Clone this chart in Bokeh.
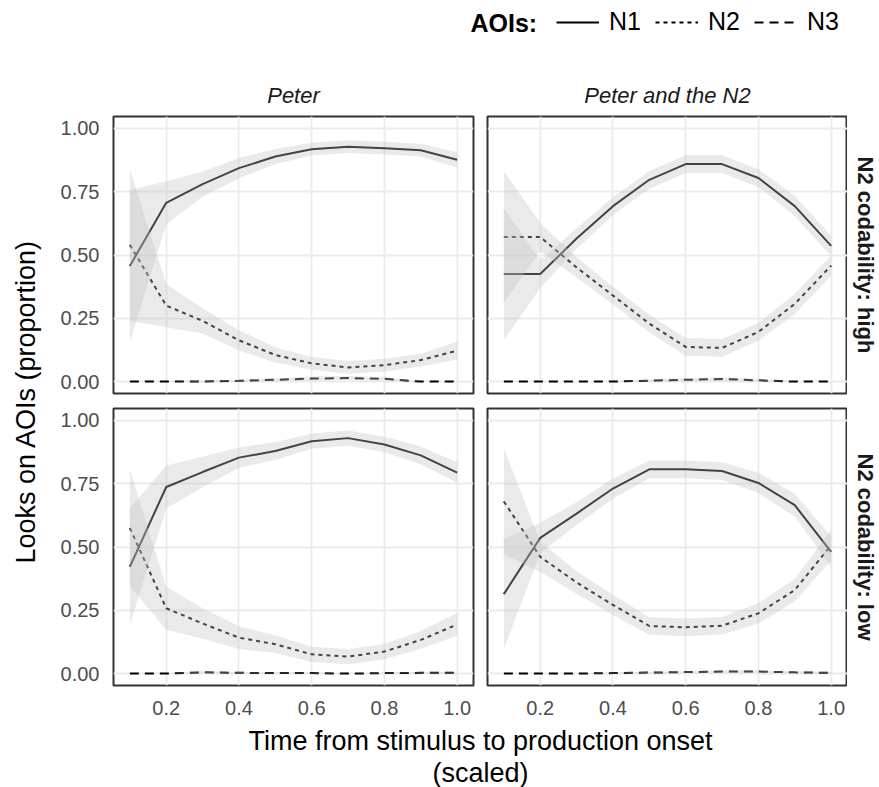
import numpy as np
from bokeh.plotting import figure
from bokeh.layouts import column, row
from bokeh.models import (Legend, LegendItem, Label, Range1d, FixedTicker,
                          NumeralTickFormatter)
from bokeh.embed import file_html
from bokeh.resources import INLINE

FONT = "Liberation Sans"

# ---------------- data ----------------
time = [0.1, 0.2, 0.3, 0.4, 0.5, 0.6, 0.7, 0.8, 0.9, 1.0]
x_ticks = [0.2, 0.4, 0.6, 0.8, 1.0]
y_ticks = [0.0, 0.25, 0.5, 0.75, 1.0]
conditions = ["Peter", "Peter and the N2"]
codability = ["N2 codability: high", "N2 codability: low"]
aoi_labels = ["N1", "N2", "N3"]

# Peter, codability high
peter_high_n1 = [0.457, 0.706, 0.780, 0.843, 0.889, 0.918, 0.928, 0.922, 0.914, 0.876]
peter_high_n1_se = [0.30, 0.085, 0.05, 0.04, 0.03, 0.025, 0.025, 0.025, 0.025, 0.03]
peter_high_n2 = [0.540, 0.300, 0.240, 0.163, 0.105, 0.072, 0.056, 0.065, 0.085, 0.122]
peter_high_n2_se = [0.30, 0.085, 0.05, 0.04, 0.03, 0.025, 0.025, 0.025, 0.025, 0.035]
peter_high_n3 = [0.0, 0.0, 0.0, 0.003, 0.007, 0.012, 0.014, 0.011, 0.0, 0.0]
peter_high_n3_se = [0.0, 0.0, 0.002, 0.004, 0.006, 0.008, 0.008, 0.007, 0.0, 0.0]

# Peter and the N2, codability high
pn2_high_n1 = [0.425, 0.425, 0.565, 0.693, 0.797, 0.859, 0.859, 0.804, 0.693, 0.536]
pn2_high_n1_se = [0.26, 0.055, 0.04, 0.035, 0.035, 0.035, 0.035, 0.035, 0.04, 0.04]
pn2_high_n2 = [0.571, 0.571, 0.451, 0.340, 0.229, 0.137, 0.133, 0.196, 0.307, 0.458]
pn2_high_n2_se = [0.26, 0.055, 0.04, 0.035, 0.035, 0.035, 0.035, 0.035, 0.04, 0.04]
pn2_high_n3 = [0.0, 0.0, 0.0, 0.0, 0.004, 0.007, 0.010, 0.005, 0.0, 0.0]
pn2_high_n3_se = [0.0, 0.0, 0.0, 0.0, 0.004, 0.006, 0.008, 0.005, 0.0, 0.0]

# Peter, codability low
peter_low_n1 = [0.422, 0.737, 0.796, 0.853, 0.879, 0.918, 0.930, 0.905, 0.862, 0.794]
peter_low_n1_se = [0.23, 0.085, 0.06, 0.04, 0.035, 0.03, 0.03, 0.03, 0.035, 0.04]
peter_low_n2 = [0.575, 0.258, 0.198, 0.142, 0.116, 0.076, 0.067, 0.087, 0.133, 0.194]
peter_low_n2_se = [0.23, 0.085, 0.06, 0.045, 0.035, 0.03, 0.03, 0.03, 0.035, 0.045]
peter_low_n3 = [0.0, 0.0, 0.005, 0.003, 0.002, 0.002, 0.0, 0.002, 0.003, 0.003]
peter_low_n3_se = [0.0, 0.0, 0.004, 0.003, 0.002, 0.002, 0.0, 0.002, 0.002, 0.002]

# Peter and the N2, codability low
pn2_low_n1 = [0.314, 0.536, 0.632, 0.731, 0.807, 0.807, 0.800, 0.753, 0.665, 0.481]
pn2_low_n1_se = [0.217, 0.06, 0.045, 0.04, 0.035, 0.035, 0.035, 0.04, 0.045, 0.06]
pn2_low_n2 = [0.680, 0.461, 0.360, 0.271, 0.188, 0.183, 0.189, 0.238, 0.330, 0.507]
pn2_low_n2_se = [0.21, 0.06, 0.045, 0.04, 0.035, 0.035, 0.035, 0.04, 0.045, 0.06]
pn2_low_n3 = [0.0, 0.0, 0.0, 0.002, 0.004, 0.006, 0.008, 0.008, 0.005, 0.003]
pn2_low_n3_se = [0.0, 0.0, 0.0, 0.002, 0.003, 0.004, 0.005, 0.005, 0.004, 0.003]

# ---------------- styling ----------------
LINE_DASH = ["solid", "4 4", "9 6"]
RIBBON_COLOR = "#c4c4c4"
RIBBON_ALPHA = 0.35
FRAME_W, FRAME_H = 360, 277


def make_panel(series, col, rowi):
    left = col == 0
    bottom = rowi == 1
    p = figure(frame_width=FRAME_W, frame_height=FRAME_H,
               x_range=Range1d(0.055, 1.045), y_range=Range1d(-0.047, 1.047),
               x_axis_location="below" if bottom else None,
               y_axis_location="left" if left else None,
               toolbar_location=None, output_backend="svg",
               min_border_left=71 if left else 7,
               min_border_right=7 if left else 0,
               min_border_top=6 if rowi == 0 else 8,
               min_border_bottom=7 if rowi == 0 else 37,
               background_fill_color="white", border_fill_color="white",
               outline_line_color="#333333", outline_line_width=2)
    p.xgrid.ticker = FixedTicker(ticks=x_ticks)
    p.ygrid.ticker = FixedTicker(ticks=y_ticks)
    for g in (p.xgrid, p.ygrid):
        g.grid_line_color = "#ebebeb"
        g.grid_line_width = 1.8
        g.minor_grid_line_color = None
    if bottom:
        ax = p.xaxis[0]
        ax.ticker = FixedTicker(ticks=x_ticks)
        ax.formatter = NumeralTickFormatter(format="0.0")
        ax.major_label_standoff = 9
    if left:
        ay = p.yaxis[0]
        ay.ticker = FixedTicker(ticks=y_ticks)
        ay.formatter = NumeralTickFormatter(format="0.00")
        ay.major_label_standoff = 8
    for a in list(p.xaxis) + list(p.yaxis):
        a.axis_line_color = None
        a.major_tick_line_color = None
        a.minor_tick_line_color = None
        a.major_label_text_font = FONT
        a.major_label_text_font_size = "20px"
        a.major_label_text_color = "#4d4d4d"

    # lines first, ribbons drawn over them
    for (mean, se), dash in zip(series, LINE_DASH):
        p.line(time, mean, line_color="black", line_width=2, line_dash=dash)
    for mean, se in series:
        m = np.array(mean)
        s = np.array(se)
        p.varea(x=time, y1=m - s, y2=m + s, fill_color=RIBBON_COLOR,
                fill_alpha=RIBBON_ALPHA)
    return p


tl = make_panel([(peter_high_n1, peter_high_n1_se), (peter_high_n2, peter_high_n2_se),
                 (peter_high_n3, peter_high_n3_se)], 0, 0)
tr = make_panel([(pn2_high_n1, pn2_high_n1_se), (pn2_high_n2, pn2_high_n2_se),
                 (pn2_high_n3, pn2_high_n3_se)], 1, 0)
bl = make_panel([(peter_low_n1, peter_low_n1_se), (peter_low_n2, peter_low_n2_se),
                 (peter_low_n3, peter_low_n3_se)], 0, 1)
br = make_panel([(pn2_low_n1, pn2_low_n1_se), (pn2_low_n2, pn2_low_n2_se),
                 (pn2_low_n3, pn2_low_n3_se)], 1, 1)


def blank(width, height):
    f = figure(width=width, height=height, x_range=Range1d(0, 1), y_range=Range1d(0, 1),
               x_axis_location=None, y_axis_location=None, toolbar_location=None,
               output_backend="svg", min_border=0, outline_line_color=None,
               background_fill_color="white", border_fill_color="white")
    f.grid.visible = False
    return f


# header: legend + column strip labels (sample renderers lie outside the visible range)
hdr = blank(879, 110)
rends = []
for dash in LINE_DASH:
    rends.append(hdr.line(x=[-2, -1], y=[-2, -2], line_color="black", line_width=2,
                          line_dash=dash))
legend = Legend(items=[LegendItem(label=lab, renderers=[r]) for lab, r in zip(aoi_labels, rends)],
                orientation="horizontal", location=(556, 74),
                glyph_width=43, glyph_height=20, label_standoff=10, spacing=14,
                padding=0, margin=0, border_line_color=None, background_fill_alpha=0,
                label_text_font=FONT, label_text_font_size="25px", label_text_color="black",
                label_text_baseline="middle")
hdr.add_layout(legend)
hdr.add_layout(Label(x=470, y=88, x_units="screen", y_units="screen", text="AOIs:",
                     text_font=FONT, text_font_style="bold", text_font_size="25px",
                     text_baseline="middle", text_align="left", text_color="black"))
for cx, cond in zip([293, 667], conditions):
    hdr.add_layout(Label(x=cx, y=15, x_units="screen", y_units="screen", text=cond,
                         text_font=FONT, text_font_style="italic", text_font_size="22px",
                         text_color="#1a1a1a", text_align="center", text_baseline="middle"))

# y-axis title
ylab = blank(42, 612)
ylab.add_layout(Label(x=25, y=321, x_units="screen", y_units="screen", angle=np.pi / 2,
                      text="Looks on AOIs (proportion)", text_font=FONT,
                      text_font_size="27px", text_align="center", text_baseline="middle",
                      text_color="black"))

# row strip labels
rstrip = blank(32, 612)
for cy, cod in zip([467.5, 175.5], codability):
    rstrip.add_layout(Label(x=18, y=cy, x_units="screen", y_units="screen", angle=-np.pi / 2,
                            text=cod, text_font=FONT, text_font_style="bold",
                            text_font_size="22px", text_color="#1a1a1a",
                            text_align="center", text_baseline="middle"))

# x-axis title
ftr = blank(879, 65)
ftr.add_layout(Label(x=480, y=47, x_units="screen", y_units="screen",
                     text="Time from stimulus to production onset", text_font=FONT,
                     text_font_size="27px", text_align="center", text_baseline="middle",
                     text_color="black"))
ftr.add_layout(Label(x=480, y=15, x_units="screen", y_units="screen",
                     text="(scaled)", text_font=FONT,
                     text_font_size="27px", text_align="center", text_baseline="middle",
                     text_color="black"))

layout = column(hdr, row(ylab, column(row(tl, tr), row(bl, br)), rstrip), ftr)

with open("out.html", "w") as fh:
    fh.write(file_html(layout, INLINE))
